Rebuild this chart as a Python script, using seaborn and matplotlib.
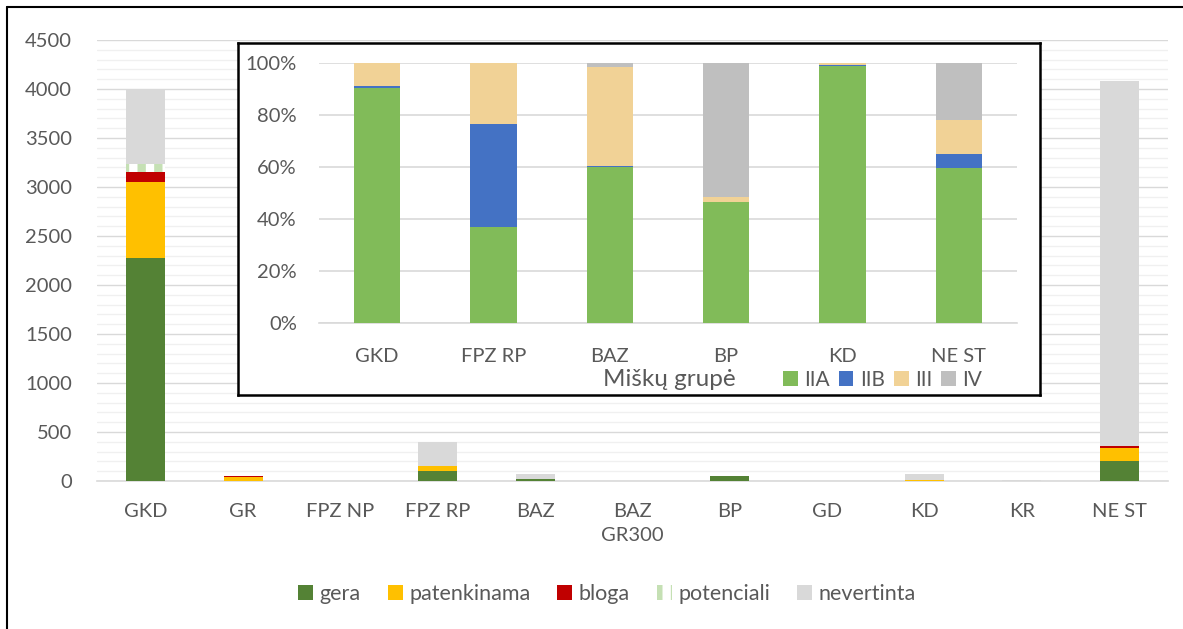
import matplotlib
matplotlib.use("Agg")
import matplotlib.pyplot as plt
import seaborn as sns
import numpy as np
from matplotlib.patches import Patch
from matplotlib.lines import Line2D

# ---- main chart data ----
categories = ["GKD", "GR", "FPZ NP", "FPZ RP", "BAZ", "BAZ\nGR300", "BP", "GD", "KD", "KR", "NE ST"]
gera        = [2280, 5, 0, 100, 25, 0, 50, 0, 0, 0, 200]
patenkinama = [775, 40, 0, 55, 0, 0, 0, 0, 8, 0, 140]
bloga       = [95, 3, 0, 0, 0, 0, 0, 0, 4, 0, 15]
potenciali  = [80, 0, 0, 0, 0, 0, 3, 0, 0, 0, 0]
nevertinta  = [770, 0, 0, 245, 50, 0, 0, 0, 58, 12, 3725]
series_names = ["gera", "patenkinama", "bloga", "potenciali", "nevertinta"]

# ---- inset data (percent) ----
inset_cats = ["GKD", "FPZ RP", "BAZ", "BP", "KD", "NE ST"]
IIA = [90.5, 37.0, 60.0, 46.5, 99.0, 59.5]
IIB = [0.5, 39.5, 0.5, 0.0, 0.3, 5.5]
III = [9.0, 23.5, 38.0, 2.0, 0.7, 13.0]
IV  = [0.0, 0.0, 1.5, 51.5, 0.0, 22.0]
inset_names = ["IIA", "IIB", "III", "IV"]

sns.set_theme(style="white")
plt.rcParams['font.family'] = ['Lato', 'DejaVu Sans']
plt.rcParams['hatch.linewidth'] = 6.0
TXT = "#595959"

W, H = 1183, 629
fig = plt.figure(figsize=(W / 100, H / 100), dpi=100)
fig.patch.set_facecolor("white")

def fbox(l, t, r, b):
    return [l / W, 1 - b / H, (r - l) / W, (b - t) / H]

# ---- main axes ----
ax = fig.add_axes(fbox(97, 40, 1168, 481))
main_colors = {"gera": "#548235", "patenkinama": "#FFC000", "bloga": "#C00000",
               "potenciali": "#C5E0B4", "nevertinta": "#D9D9D9"}
layers = [gera, patenkinama, bloga, potenciali, nevertinta]
cum = np.cumsum(np.array(layers, dtype=float), axis=0)
for i in range(len(layers) - 1, -1, -1):
    name = series_names[i]
    if name == "potenciali":
        sns.barplot(x=categories, y=cum[i], order=categories, color="white", saturation=1,
                    width=0.4, ax=ax, linewidth=0, edgecolor=main_colors[name], hatch="|",
                    zorder=3)
    else:
        sns.barplot(x=categories, y=cum[i], order=categories, color=main_colors[name],
                    saturation=1, width=0.4, ax=ax, linewidth=0, zorder=3)

ax.set_ylim(0, 4500)
ax.set_xlim(-0.5, len(categories) - 0.5)
ax.set_yticks(np.arange(0, 4501, 500))
ax.set_yticks(np.arange(0, 4501, 100), minor=True)
ax.yaxis.grid(True, which="major", color="#D9D9D9", linewidth=1.0, zorder=0)
ax.yaxis.grid(True, which="minor", color="#F0F0F0", linewidth=1.0, zorder=0)
ax.set_axisbelow(True)
for s in ["top", "right", "left"]:
    ax.spines[s].set_visible(False)
ax.spines["bottom"].set_color("#D9D9D9")
ax.spines["bottom"].set_linewidth(1.2)
ax.tick_params(axis="both", which="both", length=0, colors=TXT, labelsize=14.5)
ax.tick_params(axis="y", pad=18)
ax.tick_params(axis="x", pad=16)
for lbl in ax.get_xticklabels():
    lbl.set_linespacing(1.5)
ax.set_xlabel("")
ax.set_ylabel("")

handles = []
for name in series_names:
    if name == "potenciali":
        handles.append(Patch(facecolor="white", edgecolor=main_colors[name], hatch="|",
                             linewidth=0, label=name))
    else:
        handles.append(Patch(facecolor=main_colors[name], linewidth=0, label=name))
fig.legend(handles=handles, loc="center", bbox_to_anchor=(607 / W, 1 - 594 / H), ncol=5,
           frameon=False, fontsize=15.5, handlelength=0.7, handleheight=0.7,
           handletextpad=0.3, columnspacing=1.25, labelcolor=TXT)

# ---- inset frame ----
frame = fig.add_axes(fbox(238, 43, 1040, 395))
frame.set_xticks([]); frame.set_yticks([])
frame.set_facecolor("white")
for s in frame.spines.values():
    s.set_color("black"); s.set_linewidth(1.8)
frame.set_zorder(5)

# ---- inset axes ----
ax2 = fig.add_axes(fbox(319, 63, 1017, 323))
ax2.set_zorder(6)
ax2.patch.set_alpha(0)
inset_colors = {"IIA": "#81BB59", "IIB": "#4472C4", "III": "#F1D296", "IV": "#BFBFBF"}
ilayers = [IIA, IIB, III, IV]
icum = np.cumsum(np.array(ilayers, dtype=float), axis=0) / 100.0
for i in range(len(ilayers) - 1, -1, -1):
    sns.barplot(x=inset_cats, y=icum[i], order=inset_cats, color=inset_colors[inset_names[i]],
                saturation=1, width=0.4, ax=ax2, linewidth=0, zorder=3)
ax2.set_ylim(0, 1.0)
ax2.set_xlim(-0.5, len(inset_cats) - 0.5)
ax2.set_yticks(np.arange(0, 1.01, 0.2))
ax2.set_yticklabels([f"{int(round(v * 100))}%" for v in np.arange(0, 1.01, 0.2)])
ax2.yaxis.grid(True, color="#D9D9D9", linewidth=1.2, zorder=0)
ax2.set_axisbelow(True)
for s in ["top", "right", "left"]:
    ax2.spines[s].set_visible(False)
ax2.spines["bottom"].set_color("#D9D9D9")
ax2.spines["bottom"].set_linewidth(1.2)
ax2.tick_params(axis="both", length=0, colors=TXT, labelsize=14.5)
ax2.tick_params(axis="y", pad=16)
ax2.tick_params(axis="x", pad=18)
ax2.set_xlabel("")
ax2.set_ylabel("")

fig.text(603 / W, 1 - 380 / H, "Miškų grupė", fontsize=17.5, color=TXT, ha="left", va="center",
         zorder=10)
ihandles = [Patch(facecolor=inset_colors[n], linewidth=0, label=n) for n in inset_names]
leg2 = fig.legend(handles=ihandles, loc="center left", bbox_to_anchor=(783 / W, 1 - 380 / H),
                  ncol=4, frameon=False, fontsize=15, handlelength=0.7, handleheight=0.7,
                  handletextpad=0.3, columnspacing=0.45, labelcolor=TXT, borderaxespad=0,
                  borderpad=0)
leg2.set_zorder(10)

# ---- figure border lines (top and left) ----
fig.add_artist(Line2D([7 / W, 1], [1 - 7 / H, 1 - 7 / H], transform=fig.transFigure,
                      color="black", linewidth=1.5))
fig.add_artist(Line2D([7 / W, 7 / W], [0, 1 - 7 / H], transform=fig.transFigure,
                      color="black", linewidth=1.5))

fig.savefig("out.png", dpi=100, facecolor="white")
